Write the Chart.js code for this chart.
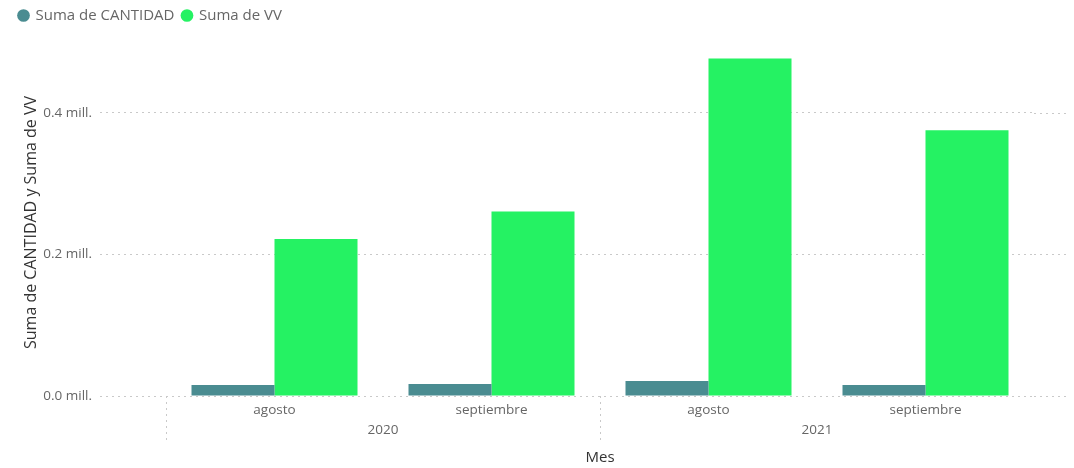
<!DOCTYPE html>
<html lang="es">
<head>
  <meta charset="UTF-8">
  <title>Suma de CANTIDAD y Suma de VV por Mes</title>
  <script src="https://cdn.jsdelivr.net/npm/chart.js"></script>
  <style>
    html, body { margin: 0; padding: 0; background: #fff; }
    #wrap { width: 1074px; height: 468px; }
  </style>
</head>
<body>
  <div id="wrap"><canvas id="ventasChart"></canvas></div>
  <script>
    // month categories and the year each pair belongs to
    const meses = ['agosto', 'septiembre', 'agosto', 'septiembre'];
    const anios = ['2020', '2021'];

    const cantidad = [15500, 16900, 21200, 15500];
    const vv = [221600, 260700, 476600, 375400];

    const yTicks = [0, 200000, 400000];

    const fontFamily = "'Segoe UI', 'Open Sans', sans-serif";
    const gridColor = '#c9c9c9';

    // stretch the dotted value lines a bit past the right edge of the plot
    const gridRight = {
      id: 'gridRight',
      beforeDatasetsDraw(chart) {
        const { ctx, chartArea, scales } = chart;
        ctx.save();
        ctx.strokeStyle = gridColor;
        ctx.lineWidth = 1;
        ctx.setLineDash([2, 4]);
        scales.y.ticks.forEach(t => {
          const py = Math.round(scales.y.getPixelForValue(t.value)) + 0.5;
          ctx.beginPath();
          ctx.moveTo(chartArea.right, py);
          ctx.lineTo(chartArea.right + 36, py);
          ctx.stroke();
        });
        ctx.restore();
      }
    };

    // extra room under the legend
    const legendMargin = {
      id: 'legendMargin',
      beforeInit(chart) {
        const fit = chart.legend.fit;
        chart.legend.fit = function () {
          fit.bind(chart.legend)();
          this.height += 16;
        };
      }
    };

    new Chart(document.getElementById('ventasChart'), {
      type: 'bar',
      data: {
        labels: meses,
        datasets: [
          {
            label: 'Suma de CANTIDAD',
            data: cantidad,
            backgroundColor: '#4a8c91',
            categoryPercentage: 0.765,
            barPercentage: 1.0
          },
          {
            label: 'Suma de VV',
            data: vv,
            backgroundColor: '#25f263',
            categoryPercentage: 0.765,
            barPercentage: 1.0
          }
        ]
      },
      options: {
        responsive: true,
        maintainAspectRatio: false,
        animation: false,
        layout: { padding: { left: 11, right: 40, top: 0, bottom: 0 } },
        plugins: {
          legend: {
            position: 'top',
            align: 'start',
            labels: {
              usePointStyle: true,
              pointStyle: 'circle',
              boxWidth: 9,
              boxHeight: 9,
              padding: 8,
              color: '#666666',
              font: { family: fontFamily, size: 15 }
            }
          },
          tooltip: { enabled: false }
        },
        scales: {
          x: {
            type: 'category',
            position: 'bottom',
            weight: 0,
            offset: true,
            grid: {
              offset: true,
              drawOnChartArea: false,
              tickLength: 46,
              tickBorderDash: [2, 4],
              tickColor: c => (c.index % 2 === 0 ? gridColor : 'rgba(0,0,0,0)'),
              color: c => (c.index % 2 === 0 ? gridColor : 'rgba(0,0,0,0)')
            },
            border: { display: false },
            ticks: {
              padding: -40,
              maxRotation: 0,
              color: '#666666',
              font: { family: fontFamily, size: 13.5 }
            },
            afterFit: s => { s.height = 22; }
          },
          year: {
            type: 'category',
            labels: anios,
            position: 'bottom',
            weight: 1,
            offset: true,
            grid: { display: false },
            border: { display: false },
            ticks: {
              padding: -4,
              color: '#666666',
              font: { family: fontFamily, size: 13.5 }
            },
            title: {
              display: true,
              text: 'Mes',
              color: '#333333',
              padding: { top: 0, bottom: 1 },
              font: { family: fontFamily, size: 15 }
            },
            afterFit: s => { s.height = 50; }
          },
          y: {
            type: 'linear',
            min: 0,
            max: 490000,
            ticks: {
              stepSize: 200000,
              padding: 8,
              color: '#666666',
              font: { family: fontFamily, size: 13.5 },
              callback: v => (v / 1000000).toFixed(1) + ' mill.'
            },
            afterBuildTicks: s => {
              s.ticks = yTicks.map(v => ({ value: v }));
            },
            grid: {
              color: gridColor,
              tickColor: gridColor,
              tickLength: 66,
              tickBorderDash: [2, 4]
            },
            border: { display: false, dash: [2, 4] },
            title: {
              display: true,
              text: 'Suma de CANTIDAD y Suma de VV',
              color: '#333333',
              padding: { top: 11, bottom: 0 },
              font: { family: fontFamily, size: 16 }
            },
            afterFit: s => { s.width = 155; }
          }
        }
      },
      plugins: [gridRight, legendMargin]
    });
  </script>
</body>
</html>
